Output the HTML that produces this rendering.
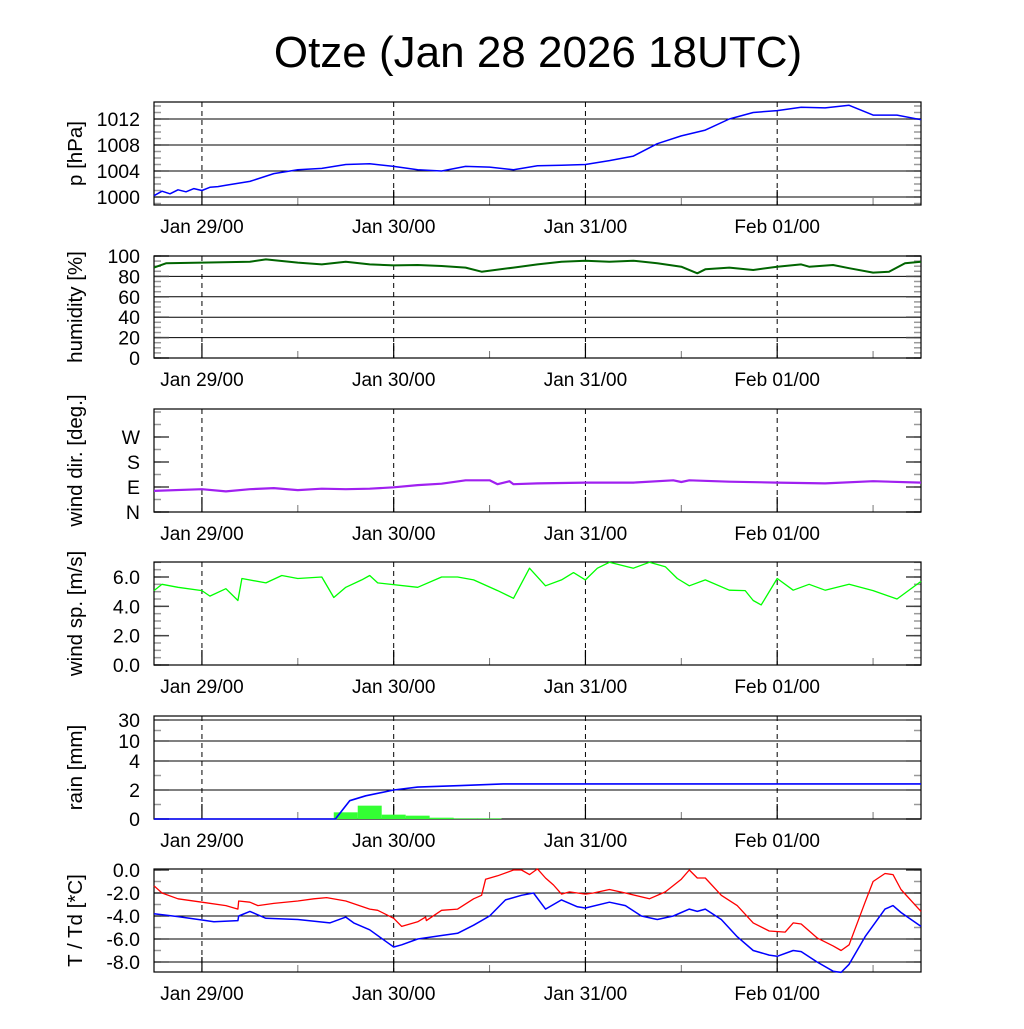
<!DOCTYPE html>
<html><head><meta charset="utf-8"><style>
html,body{margin:0;padding:0;background:#fff;}
svg text{font-family:"Liberation Sans",sans-serif;fill:#000;}
</style></head><body>
<svg id="chart" width="1024" height="1024" viewBox="0 0 1024 1024" xmlns="http://www.w3.org/2000/svg">
<rect width="1024" height="1024" fill="#fff"/>
<text x="538" y="67" font-size="44" text-anchor="middle">Otze (Jan 28 2026 18UTC)</text>
</svg>
<script>
// hours since Jan 28 18UTC
const pHours=[0,1,2,3,4,5,6,7,8,9,12,15,18,21,24,27,30,33,36,39,42,45,48,51,54,57,60,63,66,69,72,75,78,81,84,87,90,93,96];
const pressure=[1000.2,1000.9,1000.5,1001.1,1000.8,1001.3,1001.0,1001.5,1001.6,1001.8,1002.4,1003.6,1004.2,1004.4,1005.0,1005.1,1004.7,1004.2,1004.0,1004.7,1004.6,1004.2,1004.8,1004.9,1005.0,1005.6,1006.3,1008.2,1009.4,1010.3,1012.0,1013.0,1013.3,1013.8,1013.7,1014.1,1012.6,1012.6,1011.9];
const hHours=[0,1.5,6,12,14,18,21,24,27,30,33,36,39,41,45,48,51,54,57,60,63,66,68,69,72,75,78,81,82,85,87,90,92,94,96];
const humidity=[88.6,92.8,93.5,94.4,96.7,93.5,91.8,94.4,91.8,90.8,91.2,90.2,88.6,84.6,88.6,91.8,94.4,95.4,94.4,95.4,92.8,89.5,83,87,88.6,86.3,89.5,91.8,89.5,91.2,88,83.7,84.6,92.8,94.4];
const dHours=[0,6,9,12,15,18,21,24,27,30,33,36,39,42,43,44.5,45,48,54,60,65,66,67,72,78,84,90,96];
const windDir=[76,82,74,82,86,79,84,82,84,89,97,102,114,114,100,111,100,103,106,106,114,108,114,109,106,103,111,106];
const sHours=[0,1,3,6,7,9,10.5,11,14,16,18,21,22.5,24,26,27,28,33,36,38,40,43,45,47,49,51,52.5,54,55.5,57,60,62,64,65.5,67,69,72,74,75,76,78,80,82,84,87,90,93,96];
const windSpeed=[5.07,5.5,5.3,5.07,4.7,5.2,4.4,5.9,5.6,6.1,5.9,6.0,4.6,5.3,5.8,6.1,5.6,5.3,6.0,6.0,5.8,5.07,4.55,6.6,5.4,5.8,6.3,5.8,6.6,7.0,6.6,7.0,6.7,5.9,5.4,5.8,5.1,5.07,4.4,4.1,5.9,5.1,5.5,5.1,5.5,5.07,4.5,5.7];
const rHours=[0,22.7,24.5,26.5,30,33,38.4,43.7,96];
const rainSum=[0,0,1.26,1.6,2.0,2.2,2.3,2.42,2.42];
const barStart=[22.5,25.5,28.5,31.5,34.5,37.5,40.5];
const rainBars=[0.46,0.92,0.3,0.23,0.09,0.04,0.04];
const tHours=[0,1,3,6,9,10.5,10.6,12,13,15,18,20,21.6,24,27,28,30,31,33,34,34.1,36,38,40,41,41.5,43,45,46,47,48,49,50,51,52,53,54,55,57,59,62,64,66,67,68,69,71,73,75,77,79,80,81,83,85,86,87,89,90,91.5,92.5,93.5,96];
const temp=[-1.37,-2.0,-2.5,-2.8,-3.1,-3.4,-2.7,-2.8,-3.1,-2.9,-2.7,-2.5,-2.4,-2.7,-3.4,-3.5,-4.2,-4.9,-4.5,-4.1,-4.4,-3.5,-3.4,-2.5,-2.2,-0.8,-0.5,0,0,-0.4,0.1,-0.7,-1.3,-2.1,-1.9,-2.0,-2.1,-2.0,-1.7,-2.0,-2.5,-1.9,-0.8,0,-0.7,-0.7,-2.2,-3.1,-4.6,-5.3,-5.4,-4.6,-4.7,-5.9,-6.6,-7.0,-6.5,-2.8,-1.0,-0.3,-0.4,-1.7,-3.6];
const tdHours=[0,3,6,7.5,10.5,10.6,12,14,18,22,24,25,27,29,30,31,33,36,38,40,42,44,46,47.5,49,51,53,54,57,59,61,63,65,67,68,69,71,73,75,77,78,80,81,83,85,86,87,89,91.5,92.5,93.5,96];
const dewpoint=[-3.8,-4.05,-4.35,-4.5,-4.4,-4.0,-3.6,-4.2,-4.3,-4.6,-4.1,-4.6,-5.2,-6.2,-6.7,-6.5,-6.0,-5.7,-5.5,-4.8,-4.0,-2.6,-2.2,-2.0,-3.4,-2.6,-3.2,-3.3,-2.8,-3.1,-4.0,-4.3,-4.0,-3.4,-3.6,-3.4,-4.3,-5.8,-7.0,-7.4,-7.5,-7.0,-7.1,-8.0,-8.8,-8.9,-8.2,-5.8,-3.4,-3.1,-3.7,-4.9];
const dayHours=[6,30,54,78];
const dayLabels=["Jan 29/00","Jan 30/00","Jan 31/00","Feb 01/00"];
const pTicks=[1000,1004,1008,1012];
const hTicks=[0,20,40,60,80,100];
const dTicks=[0,90,180,270];
const dTickLabels=["N","E","S","W"];
const sTicks=[0,2,4,6];
const rTicks=[0,2,4,10,30];
const tTicks=[-8,-6,-4,-2,0];

const svg=document.getElementById('chart');
const NS='http://www.w3.org/2000/svg';
const L=154,R=921;
function X(h){return L+(R-L)*h/96;}
function mk(tag,attrs,parent){const e=document.createElementNS(NS,tag);for(const k in attrs)e.setAttribute(k,attrs[k]);(parent||svg).appendChild(e);return e;}
// yA = pixel of d0, yB = pixel of d1
function lin(d0,d1,yA,yB){return v=>yA+(v-d0)/(d1-d0)*(yB-yA);}
function rainY(v){const tv=[0,2,4,10,30],ty=[819,790,761,741,720];if(v<=0)return 819;for(let i=1;i<tv.length;i++){if(v<=tv[i])return ty[i-1]+(v-tv[i-1])/(tv[i]-tv[i-1])*(ty[i]-ty[i-1]);}return 720-(v-30)*0.2;}

function panel(name,top,bot,yf,ticks,labels,fmt,minor,grid,ytitle){
  const g=mk('g',{});
  
  
  minor.forEach(v=>{const y=yf(v);if(y<top||y>bot)return;
    const a=mk('line',{x1:L,x2:L+7,y1:y,y2:y,stroke:'#999','stroke-width':1.5},g);
    const b=mk('line',{x1:R-7,x2:R,y1:y,y2:y,stroke:'#999','stroke-width':1.5},g);});
  ticks.forEach((v,i)=>{const y=yf(v);
    if(grid&&y>top+1&&y<bot-1){const gl=mk('line',{x1:L,x2:R,y1:y,y2:y,stroke:'#000','stroke-width':1},g);}
    const t1=mk('line',{x1:L,x2:L+15,y1:y,y2:y,stroke:'#444','stroke-width':1.5},g);
    const t2=mk('line',{x1:R-15,x2:R,y1:y,y2:y,stroke:'#444','stroke-width':1.5},g);
    const tx=mk('text',{x:140,y:y+7,'font-size':19.5,'text-anchor':'end'},g);tx.textContent=labels?labels[i]:fmt(v);
    });
  dayHours.forEach((h,i)=>{const x=X(h);
    const dl=mk('line',{x1:x,x2:x,y1:top,y2:bot,stroke:'#000','stroke-width':1,'stroke-dasharray':'5,4'},g);
    const tk=mk('line',{x1:x,x2:x,y1:bot-15,y2:bot,stroke:'#000','stroke-width':1.2},g);
    const xl=mk('text',{x:x,y:bot+28,'font-size':19,'text-anchor':'middle'},g);xl.textContent=dayLabels[i];
    
    const mx=X(h+12);if(mx<R){const mt=mk('line',{x1:mx,x2:mx,y1:bot-7,y2:bot,stroke:'#777','stroke-width':1},g);}});
  const fr=mk('rect',{x:L,y:top,width:R-L,height:bot-top,fill:'none',stroke:'#000','stroke-width':1.2},g);
  
  const yt=mk('text',{x:0,y:0,'font-size':20.5,'text-anchor':'middle',transform:`translate(82,${(top+bot)/2}) rotate(-90)`},g);
  yt.textContent=ytitle;
  return g;
}
function line(hrs,vals,yf,color,w,name){
  const d=hrs.map((h,i)=>(i?'L':'M')+X(h).toFixed(1)+','+yf(vals[i]).toFixed(1)).join('');
  const p=mk('path',{d:d,fill:'none',stroke:color,'stroke-width':w,'stroke-linejoin':'round'});
  
}
function range(a,b,s){const r=[];for(let v=a;v<=b+1e-9;v+=s)r.push(v);return r;}

const pY=lin(1000,1004,197,171);
panel('pressure',102,205,pY,pTicks,null,v=>String(v),range(999,1015,1),true,'p [hPa]');
line(pHours,pressure,pY,'#0000ff',1.5,'pressure-line');

const hY=lin(0,100,358,256);
panel('humidity',256,358,hY,hTicks,null,v=>String(v),range(0,100,5),true,'humidity [%]');
line(hHours,humidity,hY,'#006400',2,'humidity-line');

const dY=lin(0,90,512,487);
panel('wind-dir',409,512,dY,dTicks,dTickLabels,null,range(0,360,45),false,'wind dir. [deg.]');
line(dHours,windDir,dY,'#a020f0',2.2,'wind-dir-line');

const sY=lin(0,6,665,577);
panel('wind-speed',562,665,sY,sTicks,null,v=>v.toFixed(1),range(0,7,0.5),false,'wind sp. [m/s]');
line(sHours,windSpeed,sY,'#00ff00',1.3,'wind-speed-line');

panel('rain',716,819,rainY,rTicks,null,v=>String(v),[1,3,20],true,'rain [mm]');
barStart.forEach((h,i)=>{const y=rainY(rainBars[i]);
  const b=mk('rect',{x:X(h),y:y,width:X(h+3)-X(h),height:819-y,fill:'#33ff33'});
  });
line(rHours,rainSum,rainY,'#0000ff',1.6,'rain-sum-line');

const tY=lin(-8,0,962,870);
panel('temperature',869,972,tY,tTicks,null,v=>v.toFixed(1),range(-9,0,1),true,'T / Td [*C]');
line(tHours,temp,tY,'#ff0000',1.3,'temperature-line');
line(tdHours,dewpoint,tY,'#0000ff',1.5,'dewpoint-line');
</script>
</body></html>
